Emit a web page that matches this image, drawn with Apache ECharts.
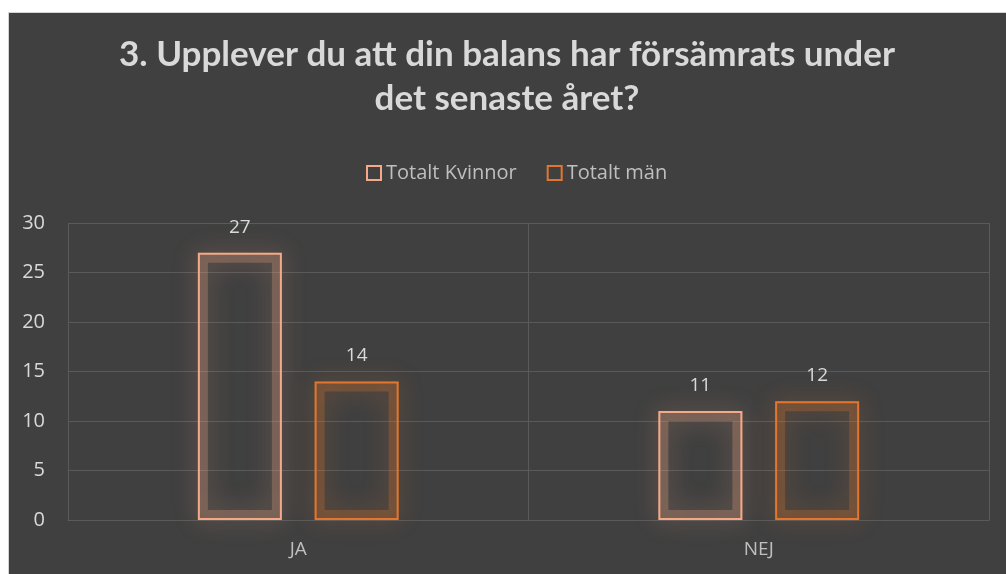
<!DOCTYPE html>
<html>
<head>
<meta charset="utf-8">
<script src="https://cdn.jsdelivr.net/npm/echarts@6/dist/echarts.min.js"></script>
<style>
	html, body { margin: 0; padding: 0; background: #ffffff; }
	#panel {
		position: absolute; left: 8px; top: 12px; width: 997px; height: 561px;
		background: #404040; border-left: 1px solid #d4d4d4; border-top: 1px solid #d4d4d4;
	}
	#chart { position: absolute; left: 8px; top: 12px; width: 998px; height: 562px; }
</style>
</head>
<body>
<div id="panel"></div>
<div id="chart"></div>
<script>
// 数据
const titleText = "3. Upplever du att din balans har försämrats under\ndet senaste året?";
const categories = ["JA", "NEJ"];
const seriesNames = ["Totalt Kvinnor", "Totalt män"];
const kvinnorValues = [27, 11];
const manValues = [14, 12];
const yTicks = { min: 0, max: 30, interval: 5 };

const colors = ["#f4a988", "#e2762e"];

const chart = echarts.init(document.getElementById("chart"));

// 主柱子（空心描边）
function barSeries(name, data, idx) {
	return {
		name: name,
		type: "bar",
		data: data,
		barWidth: 84,
		barGap: "39%",
		z: 3,
		itemStyle: {
			color: "transparent",
			borderColor: colors[idx],
			borderWidth: 2,
		},
		label: {
			show: true,
			position: "top",
			distance: 16,
			color: "#d9d9d9",
			fontSize: 19,
			fontFamily: "Open Sans",
		},
	};
}

// 发光效果（放在隐藏的第二个x轴上）
function glowSeries(data, idx) {
	return {
		name: "glow" + idx,
		type: "bar",
		xAxisIndex: 1,
		data: data,
		barWidth: 84,
		barGap: "39%",
		z: 1,
		silent: true,
		itemStyle: {
			color: "transparent",
			borderColor: colors[idx],
			borderWidth: 10,
			opacity: 0.26,
			shadowBlur: 24,
			shadowColor: colors[idx],
		},
	};
}

const option = {
	animation: false,
	backgroundColor: "transparent",
	title: {
		text: titleText,
		left: "center",
		top: 16,
		textStyle: {
			color: "#d9d9d9",
			fontSize: 35,
			fontWeight: "bold",
			fontFamily: "Lato",
			lineHeight: 44,
		},
	},
	legend: {
		data: seriesNames,
		left: 353,
		top: 146,
		itemWidth: 14,
		itemHeight: 14,
		itemGap: 30,
		icon: "rect",
		textStyle: { color: "#bfbfbf", fontSize: 20, fontFamily: "Open Sans" },
	},
	grid: { left: 60, right: 17, top: 211, bottom: 54 },
	xAxis: [
		{
			type: "category",
			data: categories,
			axisLine: { lineStyle: { color: "#5a5a5a", width: 1 } },
			axisTick: { show: false },
			splitLine: { show: true, lineStyle: { color: "#5a5a5a", width: 1 } },
			axisLabel: { color: "#bfbfbf", fontSize: 19, fontFamily: "Open Sans", margin: 20 },
		},
		{
			type: "category",
			data: categories,
			show: false,
		},
	],
	yAxis: {
		type: "value",
		min: yTicks.min,
		max: yTicks.max,
		interval: yTicks.interval,
		axisLine: { show: false },
		axisTick: { show: false },
		splitLine: { lineStyle: { color: "#5a5a5a", width: 1 } },
		axisLabel: { color: "#d9d9d9", fontSize: 20, fontFamily: "Open Sans", margin: 23 },
	},
	series: [
		glowSeries(kvinnorValues, 0),
		glowSeries(manValues, 1),
		barSeries(seriesNames[0], kvinnorValues, 0),
		barSeries(seriesNames[1], manValues, 1),
	],
};

chart.setOption(option);
</script>
</body>
</html>
